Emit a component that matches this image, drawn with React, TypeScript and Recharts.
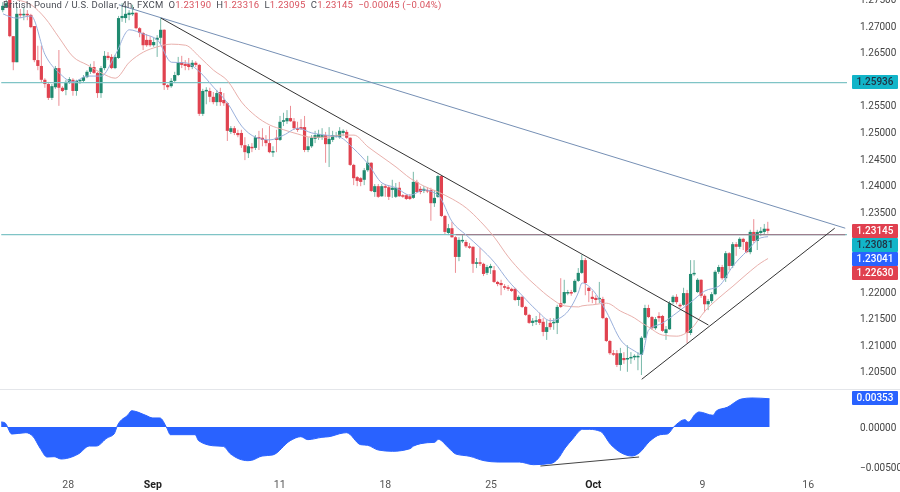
import { Area, Bar, ComposedChart, Line, ReferenceLine, XAxis, YAxis } from "recharts";

const FONT = "Roboto, sans-serif";
const slotCount = 241;

// OHLC, 4h bars, in 1/10000 of a dollar
const opens = [
  12730,12736,12749,12681,12632,12723,12721,12723,12721,12700,
  12636,12625,12599,12591,12565,12585,12621,12584,12580,12595,
  12599,12578,12597,12597,12604,12614,12623,12612,12574,12621,
  12644,12642,12621,12640,12715,12715,12721,12723,12725,12696,
  12687,12674,12674,12664,12674,12678,12693,12589,12587,12597,
  12608,12632,12629,12629,12623,12631,12627,12535,12578,12578,
  12567,12557,12576,12561,12555,12501,12508,12499,12499,12476,
  12461,12473,12471,12491,12490,12486,12480,12463,12490,12486,
  12520,12521,12527,12521,12508,12510,12510,12467,12474,12488,
  12490,12491,12495,12478,12486,12493,12491,12499,12501,12490,
  12439,12416,12414,12411,12429,12443,12388,12399,12380,12399,
  12397,12392,12379,12396,12382,12382,12380,12377,12407,12394,
  12390,12392,12392,12367,12379,12418,12343,12311,12320,12303,
  12266,12296,12294,12286,12285,12253,12256,12253,12236,12245,
  12241,12219,12217,12211,12209,12206,12206,12185,12191,12172,
  12157,12142,12144,12149,12144,12125,12142,12142,12142,12179,
  12179,12198,12200,12200,12221,12236,12260,12208,12191,12189,
  12187,12187,12151,12108,12085,12085,12063,12076,12074,12076,
  12078,12078,12082,12114,12170,12153,12132,12155,12155,12123,
  12130,12181,12191,12176,12176,12198,12123,12234,12200,12223,
  12193,12177,12183,12196,12238,12247,12226,12273,12249,12290,
  12285,12300,12294,12275,12313,12296,12311,12313,12319,
];
const closes = [
  12738,12743,12681,12632,12723,12721,12723,12721,12698,12636,
  12625,12599,12591,12565,12587,12621,12584,12578,12595,12600,
  12578,12597,12599,12604,12614,12623,12612,12574,12621,12644,
  12640,12621,12642,12715,12719,12723,12725,12725,12696,12687,
  12664,12664,12664,12670,12678,12693,12589,12585,12597,12608,
  12632,12627,12625,12623,12631,12627,12535,12578,12580,12567,
  12557,12574,12557,12555,12503,12508,12499,12495,12476,12463,
  12474,12471,12491,12490,12486,12480,12463,12465,12486,12520,
  12523,12527,12521,12508,12505,12506,12467,12474,12490,12495,
  12497,12495,12478,12488,12495,12495,12503,12503,12490,12439,
  12414,12409,12407,12429,12443,12390,12399,12379,12399,12396,
  12379,12396,12396,12380,12380,12375,12375,12407,12388,12388,
  12394,12390,12367,12377,12418,12343,12313,12320,12303,12266,
  12298,12298,12286,12285,12253,12256,12253,12234,12247,12249,
  12219,12215,12213,12208,12206,12202,12185,12191,12172,12157,
  12142,12146,12147,12142,12125,12134,12134,12144,12172,12172,
  12200,12200,12198,12221,12236,12260,12217,12202,12187,12185,
  12189,12151,12108,12085,12083,12063,12085,12072,12076,12078,
  12080,12080,12114,12170,12153,12132,12149,12151,12127,12130,
  12179,12191,12181,12174,12198,12123,12234,12236,12223,12193,
  12177,12183,12196,12238,12247,12226,12273,12249,12290,12285,
  12300,12294,12275,12313,12296,12313,12315,12319,12315,
];
const highs = [
  12745,12749,12758,12681,12734,12732,12734,12730,12723,12700,
  12663,12663,12602,12595,12591,12625,12655,12587,12599,12604,
  12602,12599,12600,12608,12617,12629,12634,12614,12625,12653,
  12651,12647,12646,12719,12743,12738,12730,12740,12726,12698,
  12689,12685,12681,12678,12683,12715,12694,12591,12602,12614,
  12642,12644,12636,12640,12636,12634,12629,12582,12585,12584,
  12576,12580,12584,12574,12557,12512,12512,12505,12505,12491,
  12478,12480,12495,12503,12508,12495,12512,12474,12505,12531,
  12537,12542,12550,12527,12520,12525,12531,12491,12495,12503,
  12505,12508,12501,12510,12503,12501,12510,12506,12505,12491,
  12441,12418,12416,12433,12456,12444,12403,12403,12403,12403,
  12401,12411,12405,12407,12384,12384,12384,12426,12411,12399,
  12399,12397,12396,12392,12420,12420,12345,12328,12332,12305,
  12303,12307,12298,12292,12286,12264,12283,12255,12251,12253,
  12249,12221,12223,12215,12213,12208,12208,12194,12193,12174,
  12159,12151,12155,12161,12151,12147,12151,12151,12176,12226,
  12223,12204,12204,12224,12245,12270,12264,12209,12202,12194,
  12219,12191,12153,12110,12091,12091,12095,12087,12100,12087,
  12083,12087,12117,12176,12176,12155,12153,12162,12157,12136,
  12183,12194,12196,12179,12208,12204,12260,12260,12226,12224,
  12196,12187,12200,12241,12251,12251,12277,12275,12294,12294,
  12303,12302,12296,12317,12337,12317,12322,12328,12332,
];
const lows = [
  12726,12734,12679,12617,12632,12715,12711,12711,12696,12632,
  12617,12593,12584,12561,12561,12582,12550,12576,12570,12591,
  12569,12569,12591,12593,12602,12610,12610,12565,12565,12617,
  12636,12619,12619,12638,12708,12706,12711,12719,12694,12679,
  12655,12661,12661,12661,12642,12666,12580,12580,12584,12593,
  12606,12621,12617,12617,12619,12623,12531,12531,12553,12557,
  12553,12550,12550,12550,12484,12497,12495,12491,12471,12448,
  12452,12463,12467,12467,12474,12474,12461,12454,12463,12484,
  12512,12516,12520,12505,12501,12505,12463,12463,12471,12480,
  12486,12486,12443,12435,12482,12490,12488,12493,12488,12437,
  12401,12399,12399,12401,12426,12388,12379,12377,12379,12379,
  12373,12377,12377,12379,12377,12373,12373,12375,12386,12384,
  12386,12386,12334,12360,12377,12341,12309,12307,12302,12236,
  12258,12292,12283,12281,12236,12245,12249,12230,12232,12234,
  12217,12211,12194,12204,12202,12200,12183,12174,12170,12155,
  12140,12136,12138,12138,12117,12110,12129,12129,12121,12170,
  12177,12194,12193,12198,12219,12234,12194,12181,12179,12177,
  12179,12149,12106,12082,12080,12059,12052,12065,12050,12065,
  12072,12053,12044,12110,12151,12129,12129,12144,12125,12110,
  12129,12177,12177,12170,12174,12104,12119,12230,12198,12189,
  12162,12166,12179,12194,12234,12223,12219,12241,12245,12268,
  12281,12279,12273,12271,12292,12279,12305,12309,12310,
];

// moving averages, read at these bars only
const maBars = [0,4,8,12,16,20,24,28,32,36,40,44,48,52,56,60,64,68,72,76,80,84,88,92,96,100,104,108,112,116,120,124,128,132,136,140,144,148,152,156,160,164,165,168,172,176,180,182,184,188,192,196,200,204,208,212,216,218];
const fastMa = [12723,12715,12719,12646,12612,12595,12606,12606,12646,12693,12685,12674,12632,12631,12614,12585,12555,12512,12491,12486,12495,12508,12499,12495,12491,12469,12441,12405,12396,12382,12392,12382,12332,12307,12283,12256,12221,12193,12166,12146,12157,12200,12217,12204,12162,12110,12089,12082,12129,12142,12161,12181,12202,12211,12249,12277,12302,12304];
const slowMa = [null,12749,12740,12715,12678,12642,12627,12612,12602,12632,12651,12661,12666,12664,12642,12617,12597,12557,12531,12514,12505,12497,12491,12491,12495,12495,12473,12454,12435,12414,12399,12388,12375,12358,12333,12303,12266,12236,12211,12189,12174,12172,12174,12176,12179,12164,12151,12142,12134,12119,12117,12130,12164,12189,12211,12234,12255,12263];

// lower pane oscillator, in 1/100000
const oscBars = [0,1,3,7,9,11,13,15,17,20,22,25,27,30,32,33,36,37,38,41,43,45,47,48,55,56,60,63,65,70,71,74,77,82,85,87,91,93,97,98,102,104,107,111,116,117,121,123,124,127,129,133,137,141,147,151,156,158,160,162,165,167,170,173,176,179,181,184,187,189,191,194,195,197,198,202,203,206,210,213,218];
const oscValues = [63,54,-88,-71,-117,-263,-375,-371,-400,-375,-334,-238,-238,-138,-88,21,154,204,196,146,113,113,-13,-96,-96,-171,-234,-242,-334,-421,-417,-363,-350,-171,-121,-158,-129,-121,-75,-71,-221,-229,-288,-304,-271,-238,-196,-192,-154,-263,-338,-367,-421,-438,-438,-471,-455,-396,-263,-158,-29,-29,-54,-221,-325,-363,-325,-179,-96,-88,8,92,63,163,188,146,204,246,350,363,353];

const priceTicks = [1.205,1.21,1.215,1.22,1.235,1.24,1.245,1.25,1.255,1.265,1.27,1.275];
const oscTicks = [0,-0.005];
const dateSlots = [19,43,79,109,139,168,199,229];
const dateLabels = ["28","Sep","11","18","25","Oct","9","16"];

const supportLevels = [1.25936, 1.23081];
const closeLine = { from: 129, to: 240, price: 1.23081 };
// trend lines: [bar, price] at each end
const upperTrend = [[33, 1.274], [240, 1.232]];
const midTrend = [[45, 1.2715], [201, 1.2138]];
const risingTrend = [[182, 1.2036], [237, 1.232]];
const oscTrend = [[153, -0.00488], [181, -0.00375]];

const rows = Array.from({ length: slotCount }, (_, slot) => {
  const maAt = maBars.indexOf(slot);
  const oscAt = oscBars.indexOf(slot);
  const hasBar = slot < opens.length;
  return {
    slot,
    open: hasBar ? opens[slot] / 10000 : null,
    close: hasBar ? closes[slot] / 10000 : null,
    high: hasBar ? highs[slot] / 10000 : null,
    low: hasBar ? lows[slot] / 10000 : null,
    range: hasBar ? [lows[slot] / 10000, highs[slot] / 10000] : null,
    fast: maAt >= 0 ? fastMa[maAt] / 10000 : null,
    slow: maAt >= 0 && slowMa[maAt] != null ? (slowMa[maAt] as number) / 10000 : null,
    osc: oscAt >= 0 ? oscValues[oscAt] / 100000 : null,
  };
});

function Candle(props: any) {
  const { x, y, width, height, payload } = props;
  if (payload.range == null) return null;
  const up = payload.close >= payload.open;
  const color = up ? "#1f8a70" : "#e0424f";
  const k = Math.abs(height) / (payload.high - payload.low || 1);
  const top = y + (payload.high - Math.max(payload.open, payload.close)) * k;
  const bodyH = Math.max(Math.abs(payload.open - payload.close) * k, 1.5);
  const mid = x + width / 2;
  return (
    <g>
      <line x1={mid} x2={mid} y1={y} y2={y + Math.abs(height)} stroke={color} strokeOpacity={0.6} strokeWidth={1} />
      <rect x={mid - 1.6} y={top} width={3.2} height={bodyH} fill={color} />
    </g>
  );
}

function DateTick(props: any) {
  const { x, y, payload } = props;
  const label = dateLabels[dateSlots.indexOf(payload.value)];
  const strong = label === "Sep" || label === "Oct";
  return (
    <text x={x} y={y + 8} textAnchor="middle" fontFamily={FONT} fontSize={10.5} fontWeight={strong ? 700 : 400} fill={strong ? "#222" : "#555"}>
      {label}
    </text>
  );
}

function Tag({ top, bg, color, text }: { top: number; bg: string; color: string; text: string }) {
  return (
    <div
      style={{
        position: "absolute",
        left: 852,
        top,
        width: 46,
        height: 14,
        lineHeight: "14px",
        background: bg,
        color,
        fontFamily: FONT,
        fontSize: 10,
        fontWeight: 500,
        textAlign: "center",
        borderRadius: 1,
      }}
    >
      {text}
    </div>
  );
}

const red = { color: "#d9525e" };

export default function App() {
  return (
    <div style={{ position: "absolute", left: 0, top: 0, width: 900, height: 492, background: "#fff", overflow: "hidden", filter: "blur(0.3px)" }}>
      <div style={{ position: "absolute", left: 0, top: -10 }}>
        <ComposedChart width={900} height={399} data={rows} margin={{ top: 0, right: 0, bottom: 0, left: 1.25 }} barCategoryGap={0}>
          <XAxis dataKey="slot" type="category" hide />
          <YAxis
            orientation="right"
            width={53}
            type="number"
            domain={[1.20177, 1.27678]}
            ticks={priceTicks}
            interval={0}
            tickFormatter={(v: number) => v.toFixed(5)}
            axisLine={false}
            tickLine={false}
            tickMargin={7}
            tick={{ fontFamily: FONT, fontSize: 10, fill: "#444" }}
          />
          {supportLevels.map((p) => (
            <ReferenceLine key={p} y={p} stroke="#7fc4c6" strokeWidth={1.2} />
          ))}
          <ReferenceLine
            segment={[{ x: closeLine.from, y: closeLine.price }, { x: closeLine.to, y: closeLine.price }]}
            stroke="#9d7f8e"
            strokeWidth={1.2}
          />
          <Bar dataKey="range" barSize={3} shape={<Candle />} isAnimationActive={false} />
          <Line dataKey="slow" stroke="#e9b0ac" strokeWidth={1} dot={false} connectNulls type="monotone" isAnimationActive={false} />
          <Line dataKey="fast" stroke="#9ab0dc" strokeWidth={1} dot={false} connectNulls type="monotone" isAnimationActive={false} />
          {[upperTrend, midTrend, risingTrend].map((t, n) => (
            <ReferenceLine
              key={n}
              segment={[{ x: t[0][0], y: t[0][1] }, { x: t[1][0], y: t[1][1] }]}
              stroke={n === 0 ? "#7690b5" : "#333"}
              strokeWidth={1}
            />
          ))}
        </ComposedChart>
      </div>

      <div style={{ position: "absolute", left: 0, top: 389, width: 900, height: 1, background: "#e4e6ea" }} />

      <div style={{ position: "absolute", left: 0, top: 390 }}>
        <ComposedChart width={900} height={102} data={rows} margin={{ top: 0, right: 0, bottom: 0, left: 1.25 }}>
          <XAxis
            dataKey="slot"
            type="category"
            height={20}
            ticks={dateSlots}
            interval={0}
            axisLine={false}
            tickLine={false}
            tick={<DateTick />}
          />
          <YAxis
            orientation="right"
            width={53}
            type="number"
            domain={[-0.005625, 0.004625]}
            ticks={oscTicks}
            interval={0}
            tickFormatter={(v: number) => v.toFixed(5).replace("-", "\u2212")}
            axisLine={false}
            tickLine={false}
            tickMargin={7}
            tick={{ fontFamily: FONT, fontSize: 10, fill: "#444" }}
          />
          <Area dataKey="osc" stroke="#2962ff" strokeWidth={1} fill="#2962ff" fillOpacity={1} connectNulls type="monotone" dot={false} isAnimationActive={false} />
          <ReferenceLine
            segment={[{ x: oscTrend[0][0], y: oscTrend[0][1] }, { x: oscTrend[1][0], y: oscTrend[1][1] }]}
            stroke="#444"
            strokeWidth={1}
          />
        </ComposedChart>
      </div>

      <div style={{ position: "absolute", left: 3, top: -1, fontFamily: FONT, fontSize: 9.5, color: "#4a4d55", whiteSpace: "pre", letterSpacing: 0.2 }}>
        {"British Pound / U.S. Dollar, 4h, FXCM  O"}
        <span style={red}>1.23190</span>
        {"  H"}
        <span style={red}>1.23316</span>
        {"  L"}
        <span style={red}>1.23095</span>
        {"  C"}
        <span style={red}>1.23145</span>
        <span style={red}>{"  \u22120.00045 (\u22120.04%)"}</span>
      </div>

      <Tag top={75} bg="#12b5c9" color="#234" text="1.25936" />
      <Tag top={224} bg="#e0404f" color="#fff" text="1.23145" />
      <Tag top={238} bg="#12b5c9" color="#234" text="1.23081" />
      <Tag top={252} bg="#2962ff" color="#fff" text="1.23041" />
      <Tag top={266} bg="#e0404f" color="#fff" text="1.22630" />
      <Tag top={391} bg="#2962ff" color="#fff" text="0.00353" />
    </div>
  );
}
